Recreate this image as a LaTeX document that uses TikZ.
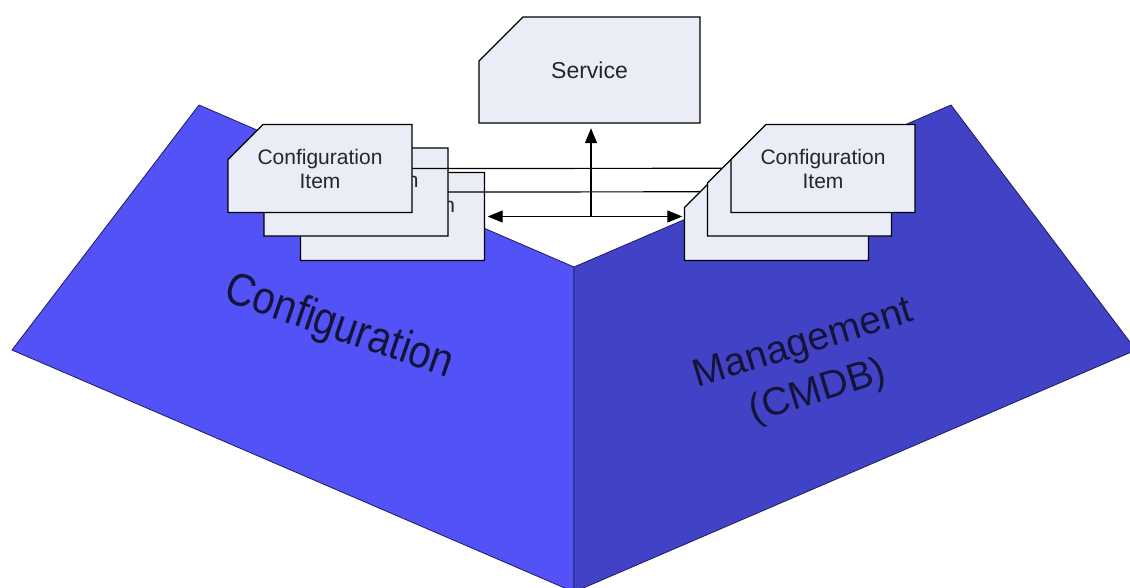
\documentclass[tikz,border=0pt]{standalone}
\usepackage{fontspec}
\usepackage{graphicx}
\setmainfont{Liberation Sans}
\usetikzlibrary{arrows.meta,calc}

\definecolor{planeL}{RGB}{82,82,246}
\definecolor{planeR}{RGB}{66,66,198}
\definecolor{planeEdge}{RGB}{28,28,96}
\definecolor{boxFill}{RGB}{234,237,245}
\definecolor{labelInk}{RGB}{20,20,58}

% box with a chamfered top-left corner and a named text node on top of it
% #1 name, #2 centre, #3 half width, #4 half height, #5 text,
% #6 font size, #7 line skip, #8 chamfer size
\newcommand\chambox[8]{%
  \begin{scope}[shift={#2}]
    \filldraw[cibox] (-#3,#4) -- (-#3,-#4+#8) -- (-#3+#8,-#4) -- (#3,-#4) -- (#3,#4) -- cycle;
    \node[boxtext, minimum width=2*#3, minimum height=2*#4,
          font=\fontsize{#6}{#7}\selectfont] (#1) at (0,0) {#5};
  \end{scope}}

\begin{document}
\begin{tikzpicture}[x=1pt,y=-1pt,
  plane/.style={draw=planeEdge, line width=0.8pt, line join=miter},
  cibox/.style={draw=black, line width=1.2pt, fill=boxFill, line join=miter},
  boxtext/.style={inner sep=0pt, align=center, text=black!85},
  biglabel/.style={text=labelInk, align=center},
  link/.style={line width=1.2pt, draw=black},
  tip/.style={-{Triangle[length=15pt,width=12pt]}},
  tips/.style={{Triangle[length=15pt,width=12pt]}-{Triangle[length=15pt,width=12pt]}}]

\useasboundingbox (0,0) rectangle (1130,587);
\clip (0,0) rectangle (1130,587);
\fill[white] (0,0) rectangle (1130,587);

% the two halves of the folded plane
\filldraw[plane, fill=planeL] (199,105) -- (574,267) -- (574,592) -- (12,350) -- cycle;
\filldraw[plane, fill=planeR] (574,267) -- (951,105) -- (1136,350) -- (574,592) -- cycle;

% labels on the planes
\node[biglabel, rotate=-19, font=\fontsize{40}{48}\selectfont] (conf) at (339,328)
  {\scalebox{1}[1.15]{Configuration}};
\node[biglabel, rotate=17, font=\fontsize{39}{50}\selectfont] (mgmt) at (811,369) {Management\\(CMDB)};

% left stack of configuration items (back to front)
\chambox{L3}{(392.5,216.5)}{92}{44}{Configuration\\Item}{21}{24}{35}
\chambox{L2}{(356,192)}{92}{44}{Configuration\\Item}{21}{24}{35}
\chambox{L1}{(320,168.5)}{92}{44}{Configuration\\Item}{21}{24}{35}

% right stack of configuration items (back to front)
\chambox{R3}{(776.5,216.5)}{92}{44}{Configuration\\Item}{21}{24}{35}
\chambox{R2}{(799.5,192)}{92}{44}{Configuration\\Item}{21}{24}{35}
\chambox{R1}{(823,168.5)}{92}{44}{Configuration\\Item}{21}{24}{35}

% service on top
\chambox{S}{(589.5,70)}{110.5}{53}{Service}{23}{28}{44}

% relationships between the items
\draw[link] (L1.east) -- ($(R2.north west)+(14.5,20.5)$);
\draw[link] (L2.east) -- ($(R3.north west)+(15.5,19.5)$);
\draw[link, tips, shorten <=3pt, shorten >=2pt] (L3.east) -- (R3.west);
\coordinate (J) at (591,216.5);
\draw[link, tip, shorten >=5pt] (J) -- (J |- S.south);

\end{tikzpicture}
\end{document}
